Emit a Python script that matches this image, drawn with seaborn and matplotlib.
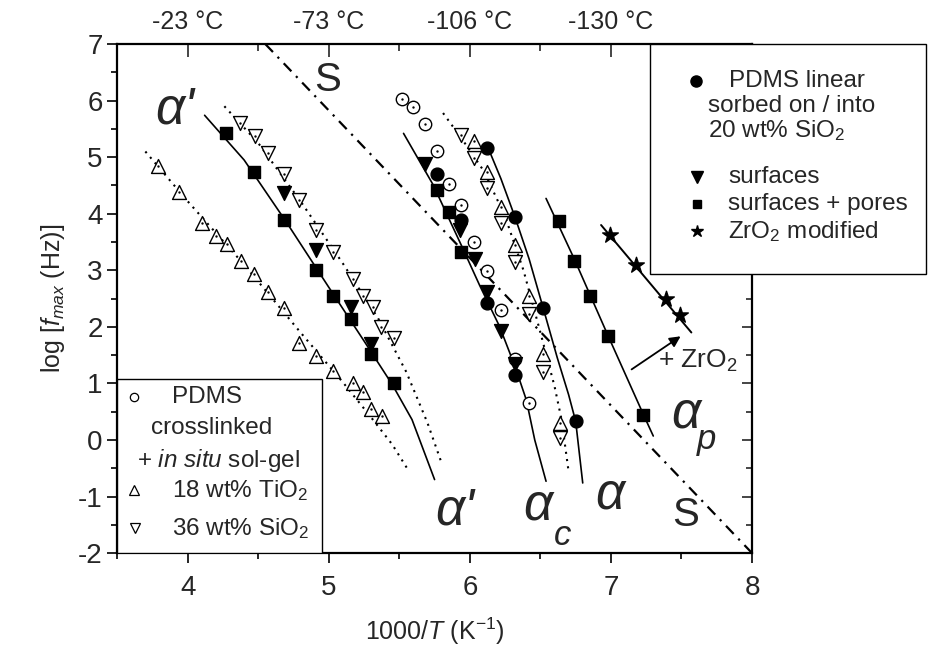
import numpy as np
import pandas as pd
import seaborn as sns
import matplotlib.pyplot as plt
from matplotlib.patches import Rectangle
from matplotlib.ticker import MultipleLocator

# ---- data: x = 1000/T (K^-1), y = log f_max (Hz) ----

# PDMS crosslinked (open circles)
circ_open_x = [5.52, 5.60, 5.68, 5.77, 5.85, 5.94, 6.03, 6.12, 6.22, 6.32, 6.42]
circ_open_y = [6.02, 5.88, 5.58, 5.10, 4.52, 4.15, 3.50, 2.98, 2.29, 1.43, 0.66]

# + 18 wt% TiO2 (open up triangles), alpha' and alpha_c
tio2_a1_x = [3.79, 3.94, 4.10, 4.20, 4.28, 4.38, 4.47, 4.57, 4.68, 4.79, 4.91, 5.03, 5.17, 5.24, 5.30, 5.38]
tio2_a1_y = [4.85, 4.39, 3.84, 3.61, 3.47, 3.17, 2.94, 2.61, 2.33, 1.72, 1.49, 1.22, 1.00, 0.84, 0.54, 0.42]
tio2_ac_x = [6.03, 6.12, 6.22, 6.32, 6.42, 6.52, 6.64]
tio2_ac_y = [5.28, 4.74, 4.12, 3.44, 2.55, 1.52, 0.30]

# + 36 wt% SiO2 (open down triangles), alpha' and alpha_c
sio2_a1_x = [4.37, 4.48, 4.57, 4.68, 4.79, 4.91, 5.03, 5.17, 5.24, 5.31, 5.37, 5.46]
sio2_a1_y = [5.60, 5.37, 5.07, 4.71, 4.24, 3.71, 3.32, 2.85, 2.55, 2.35, 1.99, 1.81]
sio2_ac_x = [5.94, 6.03, 6.12, 6.22, 6.32, 6.42, 6.52, 6.64]
sio2_ac_y = [5.39, 4.98, 4.45, 3.83, 3.15, 2.23, 1.20, 0.04]

# PDMS linear (filled circles)
lin_left_x = [5.77, 5.94, 6.12, 6.32]
lin_left_y = [4.70, 3.88, 2.42, 1.14]
lin_right_x = [6.12, 6.32, 6.52, 6.75]
lin_right_y = [5.17, 3.94, 2.33, 0.33]

# surfaces (filled down triangles)
surf_a1_x = [4.68, 4.91, 5.16, 5.30]
surf_a1_y = [4.36, 3.35, 2.35, 1.69]
surf_a_x = [5.68, 5.93, 6.04, 6.12, 6.22, 6.32]
surf_a_y = [4.87, 3.71, 3.20, 2.61, 1.93, 1.34]

# surfaces + pores (filled squares)
pores_a1_x = [4.27, 4.47, 4.68, 4.91, 5.03, 5.16, 5.30, 5.46]
pores_a1_y = [5.42, 4.74, 3.89, 3.01, 2.55, 2.14, 1.52, 1.01]
pores_a_x = [5.77, 5.85, 5.94]
pores_a_y = [4.42, 4.03, 3.32]
pores_ap_x = [6.63, 6.74, 6.85, 6.98, 7.23]
pores_ap_y = [3.87, 3.16, 2.54, 1.84, 0.45]

# ZrO2 modified (stars)
zro2_x = [6.99, 7.18, 7.39, 7.49]
zro2_y = [3.63, 3.10, 2.49, 2.21]

# traced curves
tio2_curve_x = [3.70, 4.00, 4.40, 4.80, 5.10, 5.30, 5.45, 5.57]
tio2_curve_y = [5.10, 4.22, 3.10, 1.90, 1.02, 0.40, -0.08, -0.56]
sio2_curve_x = [4.26, 4.50, 4.80, 5.10, 5.35, 5.55, 5.70, 5.80]
sio2_curve_y = [5.90, 5.25, 4.22, 3.12, 2.15, 1.20, 0.30, -0.41]
a1_curve_x = [4.12, 4.40, 4.70, 5.00, 5.25, 5.45, 5.59, 5.75]
a1_curve_y = [5.74, 4.95, 3.85, 2.70, 1.75, 0.98, 0.36, -0.70]
a_left_curve_x = [5.53, 5.74, 5.94, 6.07, 6.21, 6.32, 6.40, 6.46, 6.54]
a_left_curve_y = [5.42, 4.51, 3.44, 2.73, 2.01, 1.30, 0.71, 0.00, -0.73]
ac_curve_x = [5.81, 5.95, 6.10, 6.25, 6.38, 6.50, 6.60, 6.65, 6.70]
ac_curve_y = [5.78, 5.30, 4.75, 3.95, 3.00, 1.90, 0.95, 0.36, -0.56]
a_right_curve_x = [6.12, 6.22, 6.32, 6.42, 6.52, 6.62, 6.70, 6.75, 6.80]
a_right_curve_y = [5.22, 4.62, 3.94, 3.20, 2.33, 1.45, 0.80, 0.33, -0.76]
ap_curve_x = [6.54, 6.74, 6.98, 7.23, 7.30]
ap_curve_y = [4.27, 3.20, 1.84, 0.45, 0.07]
zro2_line_x = [6.93, 7.57]
zro2_line_y = [3.80, 1.90]
s_line_x = [4.55, 8.00]
s_line_y = [7.00, -2.00]

top_ticks = [4, 5, 6, 7]
top_labels = ['-23 °C', '-73 °C', '-106 °C', '-130 °C']

sns.set_theme(style='ticks')
plt.rcParams['font.family'] = ['Liberation Sans', 'DejaVu Sans']
plt.rcParams['mathtext.fontset'] = 'custom'
plt.rcParams['mathtext.rm'] = 'Liberation Sans'
plt.rcParams['mathtext.it'] = 'Liberation Sans:italic'
plt.rcParams['mathtext.bf'] = 'Liberation Sans:bold'
plt.rcParams['axes.unicode_minus'] = False

fig, ax = plt.subplots(figsize=(9.37, 6.53), dpi=100)
fig.subplots_adjust(left=0.125, right=0.8026, bottom=0.153, top=0.9326)

# curves
def curve(xs, ys, ls, lw=1.2):
    sns.lineplot(x=xs, y=ys, ax=ax, color='black', lw=lw, linestyle=ls,
                 sort=False, estimator=None)

curve(tio2_curve_x, tio2_curve_y, (0, (1, 2.5)), 1.5)
curve(sio2_curve_x, sio2_curve_y, (0, (1, 2.5)), 1.5)
curve(ac_curve_x, ac_curve_y, (0, (1, 2.5)), 1.5)
curve(a1_curve_x, a1_curve_y, '-')
curve(a_left_curve_x, a_left_curve_y, '-')
curve(a_right_curve_x, a_right_curve_y, '-')
curve(ap_curve_x, ap_curve_y, '-')
curve(zro2_line_x, zro2_line_y, '-', 1.4)
curve(s_line_x, s_line_y, (0, (5, 3, 1, 3)), 1.6)

# symbols
def pts(xs, ys, marker, filled, s):
    sns.scatterplot(x=xs, y=ys, ax=ax, marker=marker, s=s,
                    color='black' if filled else 'white', edgecolor='black',
                    linewidth=1.0, zorder=3)
    if not filled:
        ax.scatter(xs, ys, marker='.', s=2, color='black', zorder=4)

pts(tio2_a1_x, tio2_a1_y, '^', False, 100)
pts(tio2_ac_x, tio2_ac_y, '^', False, 100)
pts(sio2_a1_x, sio2_a1_y, 'v', False, 100)
pts(sio2_ac_x, sio2_ac_y, 'v', False, 100)
pts(circ_open_x, circ_open_y, 'o', False, 80)
pts(lin_left_x, lin_left_y, 'o', True, 85)
pts(lin_right_x, lin_right_y, 'o', True, 85)
pts(surf_a1_x, surf_a1_y, 'v', True, 100)
pts(surf_a_x, surf_a_y, 'v', True, 100)
pts(pores_a1_x, pores_a1_y, 's', True, 68)
pts(pores_a_x, pores_a_y, 's', True, 68)
pts(pores_ap_x, pores_ap_y, 's', True, 68)
pts(zro2_x, zro2_y, '*', True, 140)

# arrow + ZrO2
ax.annotate('', xy=(7.51, 1.86), xytext=(7.13, 1.22),
            arrowprops=dict(arrowstyle='-|>', color='black', lw=1.3, mutation_scale=16))
ax.text(7.33, 1.39, '+ ZrO$_2$', fontsize=19, ha='left', va='center')

# relaxation labels
big = dict(fontsize=37, style='italic', ha='center', va='center')
ax.text(3.91, 5.83, "α'", **big)
ax.text(5.89, -1.26, "α'", **big)
ax.text(6.48, -1.17, 'α', **big)
ax.text(6.66, -1.69, 'c', fontsize=25, style='italic', ha='center', va='center')
ax.text(6.99, -0.98, 'α', **big)
ax.text(7.53, 0.46, 'α', **big)
ax.text(7.68, 0.00, 'p', fontsize=25, style='italic', ha='center', va='center')
ax.text(4.99, 6.36, 'S', fontsize=29, ha='center', va='center')
ax.text(7.53, -1.33, 'S', fontsize=29, ha='center', va='center')

# upper right legend box (reaches outside the axes)
ax.add_patch(Rectangle((7.28, 2.93), 1.95, 4.07, facecolor='white', edgecolor='black',
                       lw=1.0, clip_on=False, zorder=10))
leg = dict(fontsize=17.5, ha='left', va='center', zorder=11)
mk = dict(color='black', clip_on=False, zorder=11, linestyle='none')
ax.plot([7.60], [6.34], marker='o', ms=8, **mk)
ax.text(7.84, 6.34, 'PDMS linear', **leg)
ax.text(7.69, 5.90, 'sorbed on / into', **leg)
ax.text(7.69, 5.47, '20 wt% SiO$_2$', **leg)
ax.plot([7.61], [4.65], marker='v', ms=8, **mk)
ax.text(7.83, 4.65, 'surfaces', **leg)
ax.plot([7.61], [4.17], marker='s', ms=6, **mk)
ax.text(7.83, 4.17, 'surfaces + pores', **leg)
ax.plot([7.61], [3.69], marker='*', ms=9, **mk)
ax.text(7.83, 3.69, 'ZrO$_2$ modified', **leg)

# lower left legend box
ax.add_patch(Rectangle((3.5, -2.0), 1.45, 3.07, facecolor='white', edgecolor='black',
                       lw=1.0, zorder=10))
omk = dict(color='black', mfc='white', mew=0.9, zorder=11, linestyle='none')
ax.plot([3.62], [0.76], marker='o', ms=6, **omk)
ax.text(3.89, 0.76, 'PDMS', **leg)
ax.text(3.74, 0.21, 'crosslinked', **leg)
ax.text(3.64, -0.36, '+ $\\it{in\\ situ}$ sol-gel', **leg)
ax.plot([3.62], [-0.89], marker='^', ms=7, **omk)
ax.text(3.89, -0.89, '18 wt% TiO$_2$', **leg)
ax.plot([3.63], [-1.56], marker='v', ms=7, **omk)
ax.text(3.89, -1.56, '36 wt% SiO$_2$', **leg)

# axes
ax.set_xlim(3.5, 8.0)
ax.set_ylim(-2, 7)
ax.xaxis.set_major_locator(MultipleLocator(1))
ax.xaxis.set_minor_locator(MultipleLocator(0.5))
ax.yaxis.set_major_locator(MultipleLocator(1))
ax.yaxis.set_minor_locator(MultipleLocator(0.5))
ax.tick_params(which='both', direction='out', top=False, right=False,
               labelsize=20, width=1.2, color='black')
ax.tick_params(axis='x', which='both', pad=9)
ax.tick_params(which='major', length=7)
ax.tick_params(which='minor', length=4)
for sp in ax.spines.values():
    sp.set_visible(True)
    sp.set_linewidth(1.6)
    sp.set_color('black')

ax.set_xlabel('1000/$T$ (K$^{-1}$)', fontsize=18, labelpad=10)
ax.set_ylabel('log [$f_{max}$ (Hz)]', fontsize=18, labelpad=8)

top = ax.secondary_xaxis('top')
top.set_xticks(top_ticks, labels=top_labels)
top.xaxis.set_minor_locator(MultipleLocator(0.5))
top.tick_params(which='both', direction='in', labelsize=18, width=1.2, pad=7)
top.tick_params(which='major', length=9)
top.tick_params(which='minor', length=5)

right = ax.secondary_yaxis('right')
right.yaxis.set_major_locator(MultipleLocator(1))
right.yaxis.set_minor_locator(MultipleLocator(0.5))
right.tick_params(which='both', direction='in', labelright=False, width=1.2)
right.tick_params(which='major', length=7)
right.tick_params(which='minor', length=4)

fig.savefig('out.png', dpi=100, facecolor='white')
